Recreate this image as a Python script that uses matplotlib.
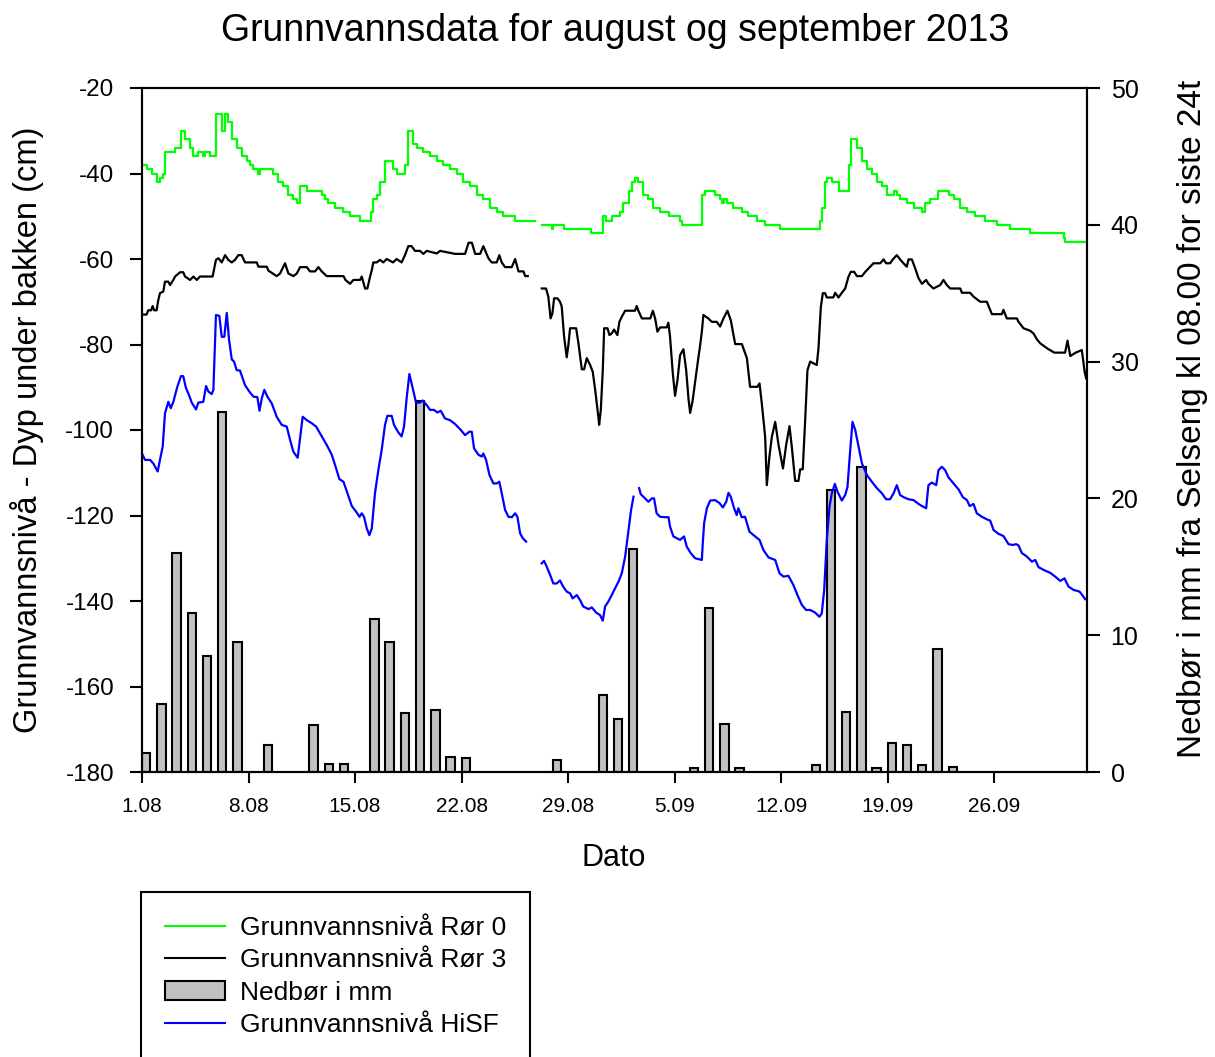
import matplotlib
matplotlib.use("Agg")
import matplotlib.pyplot as plt
from matplotlib.lines import Line2D
from matplotlib.patches import Patch
import numpy as np

plt.rcParams["font.family"] = ["Liberation Sans", "DejaVu Sans"]
plt.rcParams["axes.unicode_minus"] = False

# days after 1 August 2013, values in cm (negative = below ground)
ror0_days = [0, 0.3, 0.64, 0.96, 1.18, 1.4, 1.51, 1.73, 2.06, 2.17, 2.39, 2.54, 2.83, 3.16, 3.38, 3.7,
             4.03, 4.13, 4.36, 4.45, 4.68, 4.86, 5.08, 5.28, 5.48, 5.67, 5.9, 6.22, 6.55, 6.88, 7.1,
             7.32, 7.65, 7.76, 8.3, 8.63, 8.96, 9.29, 9.62, 9.95, 10.17, 10.39, 10.71, 10.83, 11.59,
             11.81, 12.05, 12.25, 12.69, 13.24, 13.67, 14.33, 15.0, 15.05, 15.2, 15.42, 15.64, 15.97,
             16.2, 16.5, 16.76, 17.2, 17.28, 17.5, 17.83, 18.05, 18.49, 18.93, 19.37, 19.8, 20.24,
             20.68, 21.12, 21.56, 22.0, 22.43, 22.87, 23.31, 23.75, 24.52, 25.35,
             25.8,
             26.27, 26.9, 26.95, 27.0, 27.7, 29.45, 29.5, 30.14, 30.27, 30.5, 30.87, 31.42, 31.64,
             31.97, 32.2, 32.4, 32.62, 32.95, 33.28, 33.61, 34.05, 34.6, 35.36, 35.47, 36.68, 36.83,
             37.0, 37.44, 37.66, 37.99, 38.1, 38.25, 38.47, 38.86, 39.41, 39.85, 40.4, 40.95, 41.93,
             44.45, 44.56, 44.67, 44.89, 45.0, 45.33, 45.77, 46.21, 46.43, 46.58, 46.76, 46.98, 47.31,
             47.63, 47.96, 48.29, 48.62, 48.95, 49.39, 49.6, 49.82, 50.26, 50.7, 51.25, 51.46, 51.79,
             52.34, 52.78, 53.0, 53.33, 53.77, 54.21, 54.75, 55.41, 56.17, 57.05, 58.37, 60.56,
             60.67, 62.1]
ror0_vals = [-38, -39, -40, -42, -41, -40, -35, -35, -35, -34, -34, -30, -32, -34, -36, -35,
             -36, -35, -35, -36, -36, -26, -26, -30, -26, -28, -32, -34, -36, -37, -38,
             -39, -40, -39, -39, -40, -42, -43, -45, -46, -47, -43, -43, -44, -44,
             -45, -46, -47, -48, -49, -50, -51, -51, -49, -46, -45, -42, -37,
             -37, -39, -40, -40, -38, -30, -33, -34, -35, -36, -37, -38, -39,
             -40, -42, -43, -45, -46, -48, -49, -50, -51, -51,
             np.nan,
             -52, -52, -53, -52, -53, -53, -54, -54, -50, -51, -50, -49, -47,
             -44, -42, -41, -42, -45, -46, -48, -49, -50, -51, -52, -52, -45,
             -44, -44, -45, -46, -47, -46, -47, -48, -49, -50, -51, -52, -53,
             -53, -51, -48, -42, -41, -42, -44, -44, -38, -32, -32, -34, -37,
             -39, -40, -42, -43, -45, -44, -45, -46, -47, -48, -49, -47, -46,
             -44, -44, -45, -46, -48, -49, -50, -51, -52, -53, -54, -55,
             -56, -56]

ror3_days = [0, 0.3, 0.41, 0.6, 0.7, 0.8, 0.96, 1.07, 1.18, 1.4, 1.51, 1.73, 1.84, 2.06, 2.17, 2.5,
             2.71, 2.83, 3.16, 3.38, 3.6, 3.81, 4.64, 4.86, 5.02, 5.24, 5.46, 5.67, 5.9, 6.11, 6.33,
             6.55, 6.77, 7.54, 7.65, 8.2, 8.3, 8.85, 9.07, 9.4, 9.62, 9.95, 10.17, 10.39, 10.83,
             11.04, 11.37, 11.59, 11.81, 12.14, 12.58, 13.24, 13.37, 13.67, 13.89, 14.33, 14.44,
             14.66, 14.81, 14.99, 15.1, 15.2, 15.42, 15.64, 15.86, 16.08, 16.5, 16.73, 17.06, 17.28,
             17.5, 17.72, 17.94, 18.27, 18.49, 18.71, 19.37, 19.59, 20.57, 21.23, 21.46, 21.68,
             21.89, 22.22, 22.43, 22.76, 22.98, 23.31, 23.48, 23.64, 23.86, 24.3, 24.52, 24.74,
             25.07, 25.18, 25.35,
             25.8,
             26.27, 26.55, 26.7, 26.85, 26.97, 27.08, 27.3, 27.47, 27.58, 27.74, 27.91, 28.02, 28.13,
             28.53, 28.68, 28.9, 29.05, 29.23, 29.45, 29.62, 29.78, 30.0, 30.04, 30.15, 30.28, 30.37,
             30.59, 30.72, 30.87, 31.02, 31.24, 31.37, 31.53, 31.75, 32.4, 32.51, 32.62, 32.85,
             33.4, 33.57, 33.72, 33.87, 34.05, 34.48, 34.59, 34.7, 34.88, 35.03, 35.19, 35.36,
             35.58, 35.76, 35.91, 36.02, 36.19, 36.45, 36.68, 36.79, 36.89, 37.22, 37.44, 37.77,
             37.99, 38.21, 38.47, 38.69, 38.98, 39.42, 39.75, 39.96, 40.44, 40.58, 40.73, 40.95,
             41.06, 41.23, 41.39, 41.61, 41.83, 42.12, 42.33, 42.55, 42.7, 42.92, 43.14, 43.25,
             43.42, 43.58, 43.73, 43.91, 44.34, 44.45, 44.61, 44.74, 44.89, 45.0, 45.43, 45.55,
             45.77, 45.99, 46.21, 46.43, 46.58, 46.8, 46.98, 47.31, 47.53, 47.75, 48.07, 48.51,
             48.73, 48.9, 49.16, 49.34, 49.6, 49.82, 50.04, 50.26, 50.37, 50.59, 50.81, 51.03,
             51.25, 51.53, 51.68, 52.01, 52.45, 52.67, 52.89, 53.11, 53.77, 53.88, 54.42, 54.64,
             55.08, 55.52, 55.63, 55.85, 56.5, 56.61, 56.83, 57.49, 57.6, 57.93, 58.37, 58.58,
             58.81, 59.02, 59.48, 59.95, 60.66, 60.82, 61.0, 61.36, 61.76, 61.95, 62.05, 62.1]
ror3_vals = [-73, -73, -72, -72, -71, -72, -72, -69.6, -68, -67.6, -65.3, -65.3, -66.1, -64.9, -64.1, -63.1,
             -63.1, -64.1, -64.9, -64.1, -64.9, -64.1, -64.1, -60.2, -59.8, -60.8, -59.1, -60.2, -60.8, -60.2, -59.1,
             -59.1, -60.8, -60.8, -61.8, -61.8, -62.7, -64, -63.4, -61, -63.4, -64, -63.4, -61.9, -61.9,
             -62.9, -62.9, -61.9, -62.9, -64, -64, -64, -64.9, -65.8, -64.9, -64.9, -64.1,
             -66.9, -66.9, -64.1, -62.6, -60.8, -60.8, -60.2, -60.8, -60, -60.8, -60, -60.8, -59.1,
             -57, -57, -58.1, -58.1, -58.8, -58.1, -58.7, -58.1, -58.8, -58.8, -56.2, -56.2,
             -58.8, -58.8, -57, -59.8, -60.8, -60.8, -59.1, -60.8, -61.9, -61.9, -60, -62.9,
             -62.9, -64, -64,
             np.nan,
             -66.9, -66.9, -68.8, -73.9, -72.7, -69.2, -69.2, -70, -71.1, -78.2, -83, -80.1, -76.2,
             -76.2, -79.7, -85.8, -85.8, -83.2, -84.8, -86.4, -90.6, -97.3, -98.8, -95.3, -86, -76.2,
             -76.2, -77.8, -77.4, -76.5, -77.8, -74.7, -73.5, -72.1, -72.1, -71, -72.1, -73.9,
             -73.9, -72.1, -73.9, -77, -76, -76, -74.9, -78.2, -86.7, -92, -88.3, -82.5,
             -81.1, -86, -92.6, -96, -93, -86, -80.1, -77, -73.1, -73.9, -74.7, -74.7,
             -75.8, -73.9, -72.1, -74.3, -79.9, -79.9, -83.2, -89.9, -89.9, -89.1, -93.8, -101.6,
             -112.9, -106.2, -101.6, -98.1, -103.5, -109, -103.5, -99.1, -103.9, -111.9, -111.9, -109.2,
             -109.2, -97.7, -86, -84, -84.8, -81.1, -71.2, -68, -68, -69, -69, -67.9,
             -69, -67.9, -66.9, -64.1, -63, -63, -64, -64, -63, -62.2, -61, -61,
             -60.1, -61, -61, -60.1, -59.1, -60.1, -61, -61.8, -60.1, -60.1, -62.2, -64.5,
             -65.8, -64.9, -65.8, -66.9, -66.1, -64.9, -66.1, -66.9, -66.9, -67.9, -67.9, -68.8,
             -70, -70, -71, -72.9, -72.9, -71.9, -73.9, -73.9, -74.7, -76.2, -76.8, -77.4,
             -78.8, -79.7, -80.9, -81.9, -81.9, -79.1, -82.7, -81.9, -81.3, -86.5, -88, -86]

hisf_days = [0, 0.2, 0.53, 0.74, 1.03, 1.18, 1.36, 1.51, 1.73, 1.89, 2.06, 2.32, 2.56, 2.71, 2.89, 3.04,
             3.27, 3.55, 3.7, 4.03, 4.21, 4.36, 4.58, 4.69, 4.86, 5.08, 5.24, 5.41, 5.57, 5.72, 5.9,
             6.05, 6.22, 6.44, 6.77, 7.05, 7.32, 7.58, 7.72, 7.87, 8.04, 8.24, 8.53, 8.85, 9.18, 9.51,
             9.73, 9.95, 10.23, 10.39, 10.56, 10.83, 11.15, 11.44, 11.81, 12.14, 12.47, 12.75, 12.97,
             13.24, 13.5, 13.79, 14.07, 14.29, 14.44, 14.59, 14.77, 14.94, 15.1, 15.31, 15.53, 15.75,
             15.97, 16.12, 16.41, 16.56, 16.85, 17.06, 17.22, 17.39, 17.57, 17.79, 18.01, 18.27,
             18.45, 18.71, 18.93, 19.19, 19.41, 19.63, 19.91, 20.24, 20.57, 20.9, 21.23, 21.51,
             21.67, 21.82, 22.11, 22.33, 22.43, 22.61, 22.83, 23.09, 23.31, 23.48, 23.64, 23.86,
             24.08, 24.3, 24.52, 24.67, 24.85, 25.02, 25.24,
             25.8,
             26.27, 26.42, 26.6, 26.82, 27.03, 27.25, 27.47, 27.69, 27.91, 28.13, 28.3, 28.57, 28.79,
             29.0, 29.34, 29.56, 29.84, 30.1, 30.28, 30.43, 30.65, 30.87, 31.09, 31.31, 31.53, 31.75,
             31.97, 32.14, 32.3,
             32.5,
             32.67, 32.77, 33.06, 33.28, 33.5, 33.65, 33.82, 34.05, 34.37, 34.6, 34.7, 34.92, 35.14,
             35.36, 35.62, 35.8, 36.06, 36.35, 36.79, 36.85, 36.94, 37.12, 37.34, 37.66, 37.95,
             38.17, 38.39, 38.54, 38.69, 38.91, 39.08, 39.19, 39.41, 39.63, 39.92, 40.29, 40.58,
             40.84, 41.17, 41.61, 41.89, 42.15, 42.48, 42.81, 43.07, 43.36, 43.64, 43.91, 44.23,
             44.52, 44.67, 44.83, 45.0, 45.18, 45.33, 45.53, 45.7, 45.99, 46.21, 46.36, 46.54, 46.69,
             46.87, 47.09, 47.31, 47.63, 47.96, 48.29, 48.62, 48.9, 49.16, 49.39, 49.6, 49.82, 50.04,
             50.37, 50.7, 51.03, 51.31, 51.53, 51.68, 51.9, 52.19, 52.34, 52.56, 52.78, 53.0, 53.33,
             53.66, 53.94, 54.21, 54.39, 54.64, 54.86, 55.19, 55.52, 55.74, 55.96, 56.29, 56.61,
             56.94, 57.23, 57.44, 57.6, 57.82, 58.15, 58.48, 58.7, 58.92, 59.35, 59.68, 60.01,
             60.34, 60.62, 60.88, 61.21, 61.61, 61.83, 61.98, 62.13]
hisf_vals = [-105.5, -107, -107, -107.8, -109.7, -107, -103.9, -96.1, -93.4, -94.9, -93.4, -89.9, -87.4, -87.4, -90.2, -91.4,
             -93.6, -95.2, -93.6, -93.4, -89.7, -91, -91.6, -90.6, -73.1, -73.3, -78.2, -78.2, -72.6, -78.9, -83.5,
             -84, -86, -86.1, -89.5, -91, -92.2, -92.3, -95.5, -92.6, -90.6, -92.2, -93.8, -96.9, -98.8, -99.2,
             -102.3, -105.1, -106.5, -101.9, -96.9, -97.7, -98.4, -99.2, -101.5, -103.5, -105.8, -108.9, -111.5,
             -112.1, -114.8, -117.8, -119.1, -120.3, -119.5, -120.3, -123, -124.6, -123, -114.8, -109.4, -104.7,
             -98.8, -96.7, -96.7, -98.8, -100.6, -101.5, -99.2, -92.6, -86.9, -90.2, -93.6, -93.6,
             -93.1, -94.2, -95.3, -95.3, -95.9, -95.5, -97.3, -97.7, -98.6, -99.8, -101.2, -100.4,
             -100.4, -104.3, -105.8, -106.2, -105.5, -107, -110.5, -112.5, -112.5, -112.1, -114.8, -118.7,
             -120.3, -120.4, -119.5, -120.3, -124.2, -125.3, -126.1,
             np.nan,
             -131.2, -130.6, -132, -133.9, -135.9, -135.9, -135.2, -136.7, -137.8, -138.2, -139.4, -138.6, -139.8,
             -141.3, -141.9, -141.5, -142.7, -143.3, -144.6, -141.3, -140.1, -138.6, -137, -135.5, -133.5, -129.6,
             -123.4, -118.7, -115.6,
             np.nan,
             -113.6, -115, -116, -116.8, -116, -116, -119.5, -120.3, -120.4, -120.4, -122.6, -124.9, -125.3,
             -125.7, -124.9, -127.3, -128.8, -130, -130.4, -126.5, -121.8, -118.3, -116.5, -116.4, -117.1,
             -118.1, -116.8, -114.7, -115.6, -118.3, -119.9, -118.3, -120.4, -120.3, -123.8, -124.9, -125.7,
             -128.1, -129.8, -130.4, -133.5, -134.3, -134.1, -136.3, -138.6, -140.9, -142.1, -142.1, -142.7,
             -143.7, -142.9, -137.4, -125.7, -117.9, -114.8, -112.6, -114.4, -116.5, -115.2, -113.3, -104.7, -98.1,
             -100, -103.9, -107.8, -110.5, -112.1, -113.6, -114.8, -116.2, -116.2, -114.8, -112.9, -115.2, -115.7,
             -116.2, -116.4, -117.3, -117.9, -118.3, -112.9, -112.3, -112.9, -109.4, -108.6, -109.4, -111.1, -112.5,
             -113.9, -115.7, -116.4, -117.8, -117.3, -119.5, -120.3, -120.9, -121.2, -123.4, -124.3, -124.8,
             -126.7, -126.9, -126.7, -127, -128.8, -129.6, -130.8, -130.4, -132.1, -132.9, -133.4, -134.3,
             -135.3, -134.7, -136.6, -137.4, -137.8, -138.8, -139.6, -139.6]

# daily precipitation (mm, Selseng, 08.00 - 08.00)
rain_days = [0, 1, 2, 3, 4, 5, 6, 8, 11, 12, 13, 15, 16, 17, 18, 19, 20, 21,
             27, 30, 31, 32, 36, 37, 38, 39, 44, 45, 46, 47, 48, 49, 50, 51, 52, 53]
rain_mm = [1.4, 5.0, 16.0, 11.6, 8.5, 26.3, 9.5, 2.0, 3.4, 0.6, 0.6, 11.2, 9.5, 4.3, 27.1, 4.5, 1.1, 1.0,
           0.9, 5.6, 3.9, 16.3, 0.3, 12.0, 3.5, 0.3, 0.5, 20.6, 4.4, 22.3, 0.3, 2.1, 2.0, 0.5, 9.0, 0.4]

tick_days = [0, 7, 14, 21, 28, 35, 42, 49, 56]
tick_labels = ["1.08", "8.08", "15.08", "22.08", "29.08", "5.09", "12.09", "19.09", "26.09"]

W, H = 1215, 1057
fig = plt.figure(figsize=(W / 100, H / 100), dpi=100)
ax = fig.add_axes([142 / W, 1 - 772 / H, (1087 - 142) / W, (772 - 88) / H])
ax2 = ax.twinx()

ax2.bar(rain_days, rain_mm, width=0.55, align="edge", color="#c0c0c0",
        edgecolor="black", linewidth=1.5)
ax2.set_ylim(0, 50)
ax2.set_yticks([0, 10, 20, 30, 40, 50])

ax.plot(ror0_days, ror0_vals, color="#00ff00", lw=1.6, drawstyle="steps-post")
ax.plot(ror3_days, ror3_vals, color="black", lw=1.6)
ax.plot(hisf_days, hisf_vals, color="#0000ff", lw=1.6)

# lines above the bars
ax.set_zorder(ax2.get_zorder() + 1)
ax.patch.set_visible(False)

ax.set_xlim(0, 62.1)
ax.set_ylim(-180, -20)
ax.set_yticks(np.arange(-180, 0, 20))
ax.set_xticks(tick_days)
ax.set_xticklabels(tick_labels)

for a in (ax, ax2):
    for s in a.spines.values():
        s.set_linewidth(1.5)
ax.tick_params(axis="y", direction="out", length=9, width=1.5, pad=11, labelsize=17.5)
ax.tick_params(axis="x", direction="out", length=8, width=1.5, pad=10, labelsize=15)
ax2.tick_params(axis="y", direction="out", length=9, width=1.5, pad=8, labelsize=18)

fig.text(615 / W, 1 - 31 / H, "Grunnvannsdata for august og september 2013",
         ha="center", va="center", fontsize=27)
fig.text(614 / W, 1 - 858 / H, "Dato", ha="center", va="center", fontsize=22)
fig.text(27 / W, 1 - 430 / H, "Grunnvannsnivå - Dyp under bakken (cm)",
         ha="center", va="center", rotation=90, fontsize=23.5)
fig.text(1192 / W, 1 - 419 / H, "Nedbør i mm fra Selseng kl 08.00 for siste 24t",
         ha="center", va="center", rotation=90, fontsize=24)

handles = [Line2D([], [], color="#00ff00", lw=1.5),
           Line2D([], [], color="black", lw=1.5),
           Patch(facecolor="#c0c0c0", edgecolor="black", linewidth=1.5),
           Line2D([], [], color="#0000ff", lw=1.5)]
labels = ["Grunnvannsnivå Rør 0", "Grunnvannsnivå Rør 3", "Nedbør i mm", "Grunnvannsnivå HiSF"]
leg = fig.legend(handles, labels, loc="upper left", bbox_to_anchor=(141 / W, 1 - 892 / H),
                 borderaxespad=0, fontsize=19, frameon=True, fancybox=False, framealpha=1,
                 edgecolor="black", handlelength=2.3, handleheight=0.7, handletextpad=0.55,
                 labelspacing=0.32, borderpad=0.9)
leg.get_frame().set_linewidth(1.5)

fig.savefig("out.png", dpi=100)
